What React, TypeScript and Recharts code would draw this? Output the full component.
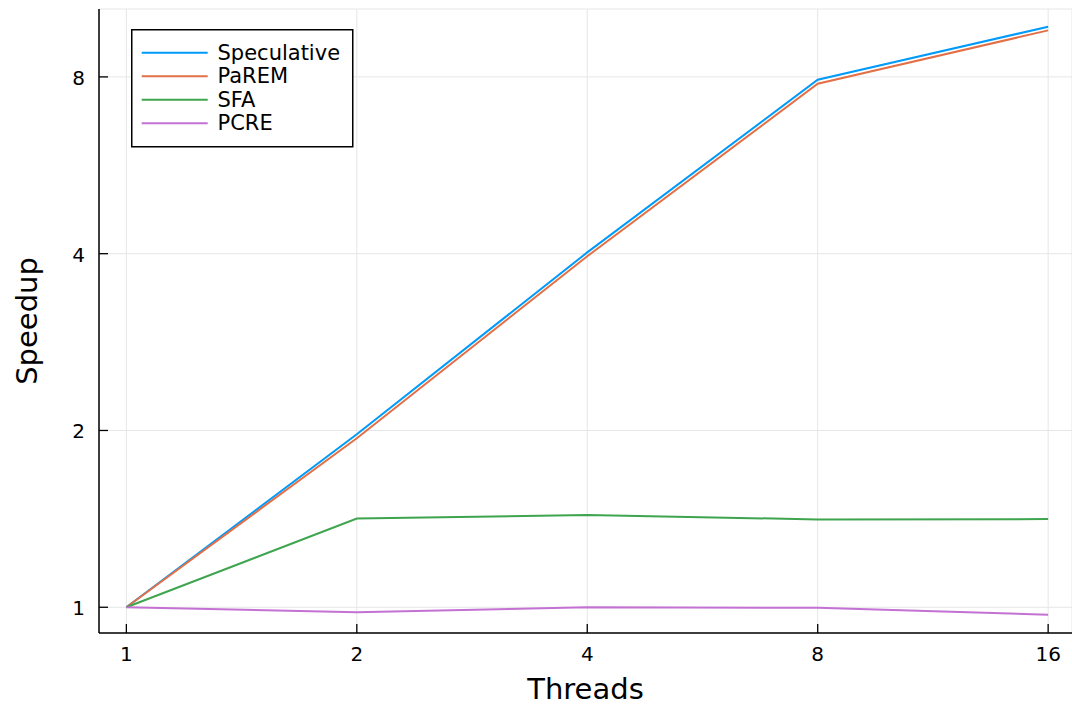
import React from "react";
import { LineChart, Line, XAxis, YAxis, CartesianGrid, Legend } from "recharts";

const threads = [1, 2, 4, 8, 16];
const speculative = [1, 1.97, 4.02, 7.91, 9.74];
const parem = [1, 1.94, 3.96, 7.79, 9.6];
const sfa = [1, 1.416, 1.436, 1.411, 1.413];
const pcre = [1, 0.981, 1.0, 0.998, 0.971];

const xTicks = [1, 2, 4, 8, 16];
const yTicks = [1, 2, 4, 8];

const SERIES = [
  { key: "speculative", name: "Speculative", color: "#009AFA" },
  { key: "parem", name: "PaREM", color: "#E36F47" },
  { key: "sfa", name: "SFA", color: "#3EA44E" },
  { key: "pcre", name: "PCRE", color: "#C371D2" },
];

const FONT = "'DejaVu Sans', sans-serif";

const data = threads.map((t, i) => ({
  threads: t,
  speculative: speculative[i],
  parem: parem[i],
  sfa: sfa[i],
  pcre: pcre[i],
}));

const XTick = (props: any) => {
  const { x, payload } = props;
  return (
    <g>
      <line x1={x} x2={x} y1={633} y2={624} stroke="#000" strokeWidth={1.3} />
      <text x={x} y={654} textAnchor="middle" dominantBaseline="central" fontSize={20} fontFamily={FONT} fill="#000">
        {payload.value}
      </text>
    </g>
  );
};

const YTick = (props: any) => {
  const { y, payload } = props;
  return (
    <g>
      <line x1={99} x2={108} y1={y} y2={y} stroke="#000" strokeWidth={1.3} />
      <text x={85} y={y + 1} textAnchor="end" dominantBaseline="central" fontSize={20} fontFamily={FONT} fill="#000">
        {payload.value}
      </text>
    </g>
  );
};

const LegendBox = () => (
  <svg width={223} height={119} style={{ display: "block" }}>
    <rect x={0.75} y={0.75} width={221} height={117} fill="#fff" stroke="#000" strokeWidth={1.5} />
    {SERIES.map((s, i) => {
      const cy = 23.7 + i * 23.5;
      return (
        <g key={s.key}>
          <line x1={10.7} x2={76.7} y1={cy} y2={cy} stroke={s.color} strokeWidth={2} />
          <text x={86.5} y={cy} dominantBaseline="central" fontSize={21} fontFamily={FONT} fill="#000">
            {s.name}
          </text>
        </g>
      );
    })}
  </svg>
);

export default function App() {
  return (
    <div style={{ position: "absolute", left: 0, top: 0, width: 1072, height: 708, overflow: "hidden", background: "#fff" }}>
      <LineChart width={1072} height={708} data={data} margin={{ top: 9, right: 0, bottom: 0, left: 0 }}>
        <CartesianGrid stroke="#e6e6e6" strokeWidth={1} />
        <XAxis
          dataKey="threads"
          type="number"
          scale="log"
          domain={[0.921, 17.19]}
          ticks={xTicks}
          interval={0}
          height={75}
          tick={<XTick />}
          tickLine={false}
          axisLine={{ stroke: "#000", strokeWidth: 1.5 }}
          label={{ value: "Threads", position: "insideBottom", offset: 9, fontSize: 29, fontFamily: FONT, fill: "#000" }}
        />
        <YAxis
          type="number"
          scale="log"
          domain={[0.904, 10.44]}
          ticks={yTicks}
          interval={0}
          width={99}
          tick={<YTick />}
          tickLine={false}
          allowDataOverflow
          axisLine={{ stroke: "#000", strokeWidth: 1.5 }}
          label={{ value: "Speedup", angle: -90, position: "insideLeft", offset: 27, fontSize: 29, fontFamily: FONT, fill: "#000", style: { textAnchor: "middle" } }}
        />
        <Legend
          layout="vertical"
          align="center"
          verticalAlign="middle"
          wrapperStyle={{ left: 131, top: 29, width: 223, height: 119 }}
          content={() => <LegendBox />}
        />
        {SERIES.map((s) => (
          <Line
            key={s.key}
            dataKey={s.key}
            name={s.name}
            stroke={s.color}
            strokeWidth={2}
            dot={false}
            activeDot={false}
            isAnimationActive={false}
            type="linear"
          />
        ))}
      </LineChart>
    </div>
  );
}
